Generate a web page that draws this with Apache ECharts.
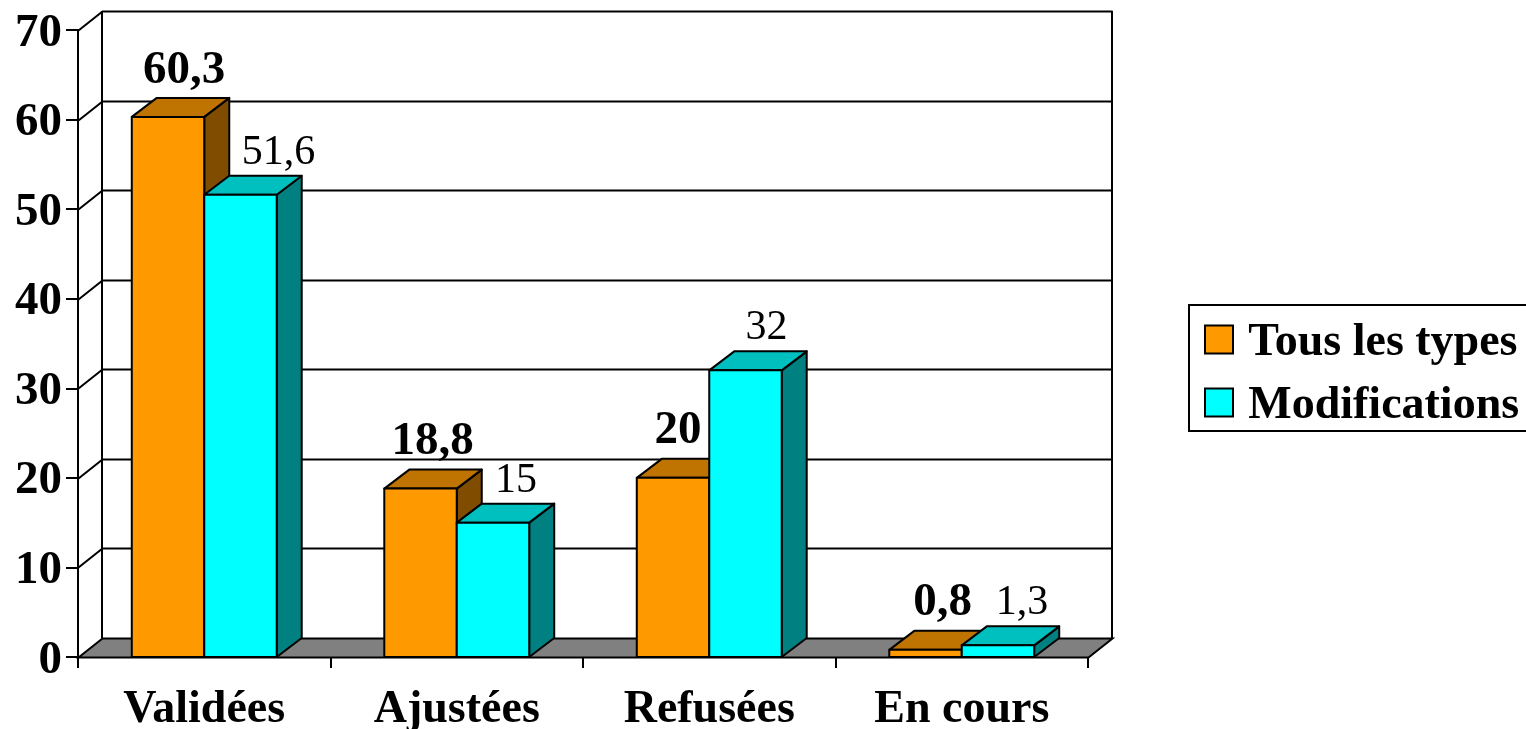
<!DOCTYPE html>
<html>
<head>
<meta charset="utf-8">
<title>Validées</title>
<script src="https://cdn.jsdelivr.net/npm/echarts@6/dist/echarts.min.js"></script>
<style>
  html, body { margin: 0; padding: 0; background: #fff; overflow: hidden; }
  #chart { width: 1526px; height: 729px; }
</style>
</head>
<body>
<div id="chart"></div>
<script>
  var categories = ['Validées', 'Ajustées', 'Refusées', 'En cours']
  var tousLesTypes = [60.3, 18.8, 20, 0.8]
  var modifications = [51.6, 15, 32, 1.3]
  var yTicks = [0, 10, 20, 30, 40, 50, 60, 70]

  // the labels were moved by hand in the original, px to the right of the top face
  var shiftTous = [4, 0, -7, 5]
  var shiftModif = [26, 11, 9, 12]

  var fontName = '"Liberation Serif", serif'
  var depthX = 24
  var depthY = 19
  var barRatio = 0.287

  function pt (x, y) {
    return [Math.round(x) + 0.5, Math.round(y) + 0.5]
  }

  // back wall, side wall lines and floor
  function renderWall (params, api) {
    var box = params.coordSys
    var value = api.value(0)
    var y = api.coord([0, value])[1]
    var x0 = box.x
    var x1 = box.x + box.width
    var children = []
    if (value === 0) {
      children.push({
        type: 'polygon',
        shape: { points: [pt(x0, y), pt(x0 + depthX, y - depthY), pt(x1 + depthX, y - depthY), pt(x1, y)] },
        style: { fill: '#808080', stroke: '#000', lineWidth: 2 }
      })
      var top = api.coord([0, 70])[1]
      children.push({
        type: 'line',
        shape: { x1: x0 + depthX, y1: top - depthY, x2: x0 + depthX, y2: y - depthY },
        style: { stroke: '#000', lineWidth: 2 }
      })
      children.push({
        type: 'line',
        shape: { x1: x1 + depthX, y1: top - depthY, x2: x1 + depthX, y2: y - depthY },
        style: { stroke: '#000', lineWidth: 2 }
      })
    } else {
      children.push({
        type: 'polyline',
        shape: { points: [pt(x0, y), pt(x0 + depthX, y - depthY), pt(x1 + depthX, y - depthY)] },
        style: { fill: null, stroke: '#000', lineWidth: 2 }
      })
    }
    return { type: 'group', children: children }
  }

  function makeBarRender (slot, colors, shifts, bold) {
    return function (params, api) {
      var idx = api.value(0)
      var val = api.value(1)
      var c = api.coord([idx, val])
      var base = api.coord([idx, 0])[1]
      var w = api.size([1, 0])[0] * barRatio
      var left = c[0] + slot * w
      var right = left + w
      var top = c[1]
      var border = { stroke: '#000', lineWidth: 2, lineJoin: 'round' }
      return {
        type: 'group',
        children: [
          {
            type: 'polygon',
            shape: { points: [[right, top], [right + depthX + 1, top - depthY], [right + depthX + 1, base - depthY], [right, base]] },
            style: Object.assign({ fill: colors[2] }, border)
          },
          {
            type: 'polygon',
            shape: { points: [[left, top], [left + depthX + 1, top - depthY], [right + depthX + 1, top - depthY], [right, top]] },
            style: Object.assign({ fill: colors[1] }, border)
          },
          {
            type: 'rect',
            shape: { x: left, y: top, width: w, height: base - top },
            style: Object.assign({ fill: colors[0] }, border)
          },
          {
            type: 'text',
            z2: 100,
            style: {
              text: String(val).replace('.', ','),
              x: left + w / 2 + depthX / 2 + shifts[idx],
              y: top - depthY - (bold ? 4 : 2),
              fill: '#000',
              align: 'center',
              verticalAlign: 'bottom',
              font: (bold ? 'bold 47px ' : '42px ') + fontName
            }
          }
        ]
      }
    }
  }

  function pairs (values) {
    return values.map(function (v, i) {
      return [i, v]
    })
  }

  // a tall empty token pushes the bold text a few px below the middle of its line
  function lowered (size) {
    return {
      s: { fontSize: 1, height: size + 7, lineHeight: size + 7 },
      a: { color: '#000', fontFamily: fontName, fontWeight: 'bold', fontSize: size, lineHeight: size, verticalAlign: 'bottom' }
    }
  }

  var chart = echarts.init(document.getElementById('chart'), null, { renderer: 'canvas' })
  chart.setOption({
    animation: false,
    backgroundColor: '#fff',
    textStyle: { fontFamily: fontName },
    grid: { left: 78, right: 438, top: 30, bottom: 72, containLabel: false, outerBoundsMode: 'none' },
    legend: {
      left: 1189,
      top: 305,
      orient: 'vertical',
      data: ['Tous les types', 'Modifications'],
      icon: 'rect',
      itemWidth: 28,
      itemHeight: 28,
      itemGap: 10,
      padding: [8, 16, 2, 15],
      borderColor: '#000',
      borderWidth: 2,
      backgroundColor: '#fff',
      itemStyle: { borderColor: '#000', borderWidth: 2 },
      formatter: '{s| }{a|{name}}',
      textStyle: {
        color: '#000',
        fontFamily: fontName,
        fontWeight: 'bold',
        fontSize: 46,
        padding: [0, 0, 0, 10],
        rich: lowered(46)
      }
    },
    xAxis: {
      type: 'category',
      data: categories,
      boundaryGap: true,
      axisLine: { lineStyle: { color: '#000', width: 2 } },
      axisTick: { show: true, length: 11, alignWithLabel: false, lineStyle: { color: '#000', width: 2 } },
      axisLabel: { color: '#000', fontFamily: fontName, fontWeight: 'bold', fontSize: 46, margin: 30, interval: 0 }
    },
    yAxis: {
      type: 'value',
      min: 0,
      max: 70,
      interval: 10,
      splitLine: { show: false },
      axisLine: { show: true, lineStyle: { color: '#000', width: 2 } },
      axisTick: { show: true, length: 12, lineStyle: { color: '#000', width: 2 } },
      axisLabel: {
        color: '#000',
        fontFamily: fontName,
        fontWeight: 'bold',
        fontSize: 47,
        margin: 16,
        formatter: '{s| }{a|{value}}',
        rich: lowered(47)
      }
    },
    series: [
      {
        name: 'walls',
        type: 'custom',
        silent: true,
        clip: false,
        renderItem: renderWall,
        encode: { y: 0 },
        data: yTicks.map(function (v) { return [v] })
      },
      {
        name: 'Tous les types',
        type: 'custom',
        clip: false,
        itemStyle: { color: '#FF9900' },
        renderItem: makeBarRender(-1, ['#FF9900', '#BF7300', '#804D00'], shiftTous, true),
        encode: { x: 0, y: 1 },
        data: pairs(tousLesTypes)
      },
      {
        name: 'Modifications',
        type: 'custom',
        clip: false,
        itemStyle: { color: '#00FFFF' },
        renderItem: makeBarRender(0, ['#00FFFF', '#00BFBF', '#008080'], shiftModif, false),
        encode: { x: 0, y: 1 },
        data: pairs(modifications)
      }
    ]
  })
  window.addEventListener('resize', chart.resize)
</script>
</body>
</html>
